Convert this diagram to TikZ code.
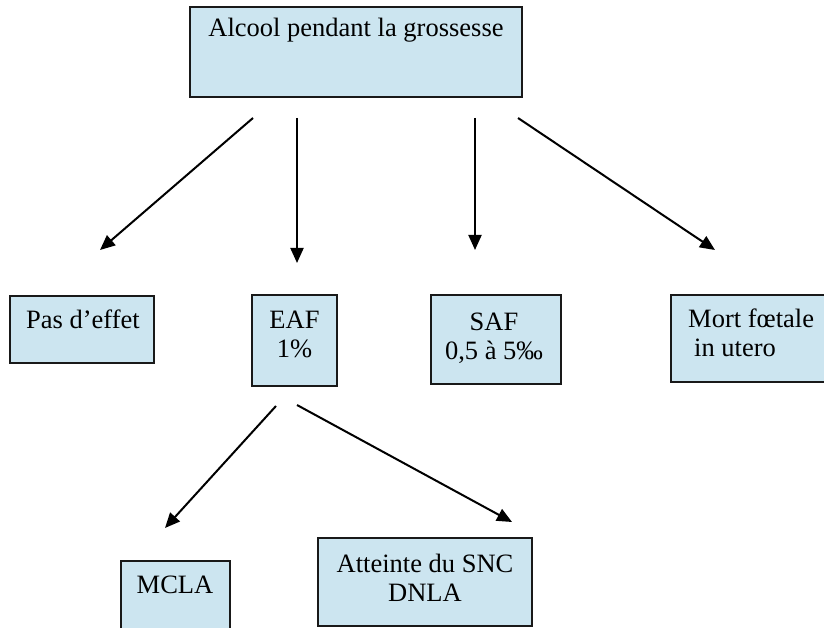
\documentclass[tikz,border=0pt]{standalone}
\usepackage{fontspec}
\setmainfont{Liberation Serif}
\usetikzlibrary{arrows.meta}
\definecolor{boxfill}{RGB}{204,229,240}
\begin{document}
\begin{tikzpicture}[x=1pt,y=-1pt,
  box/.style={draw=black!90, line width=2.2pt, fill=boxfill, inner sep=0pt},
  lbl/.style={font=\fontsize{26.5}{29}\selectfont, inner sep=0pt, anchor=base, align=center},
  arr/.style={line width=2pt, -{Triangle[length=15pt,width=13pt]}}]
\useasboundingbox (0,0) rectangle (824,628);
\clip (0,0) rectangle (824,628);
% boxes
\node[box, minimum width=332pt, minimum height=90pt] (b0) at (356,52) {};
\node[box, minimum width=144pt, minimum height=67pt] (b1) at (82,329.5) {};
\node[box, minimum width=85pt, minimum height=91pt] (b2) at (294.5,340.5) {};
\node[box, minimum width=130pt, minimum height=89pt] (b3) at (496,339.5) {};
\node[box, minimum width=170pt, minimum height=87pt] (b4) at (756,338.5) {};
\node[box, minimum width=109pt, minimum height=90pt] (b5) at (175.5,606) {};
\node[box, minimum width=214pt, minimum height=88pt] (b6) at (425,582) {};
% texts (multi-line nodes: base = baseline of the last line)
\node[lbl] (t0) at (356,37) {Alcool pendant la grossesse};
\node[lbl] (t1) at (83,328) {Pas d’effet};
\node[lbl] (t2) at (294.5,357) {EAF\\1\%};
\node[lbl] (t3) at (494,359) {SAF\\0,5 à 5‰};
\node[lbl, align=left, anchor=base west] (t4) at (688,356) {Mort fœtale\\\hspace*{6pt}in utero};
\node[lbl] (t5) at (175,593) {MCLA};
\node[lbl] (t6) at (425,601) {Atteinte du SNC\\DNLA};
% arrow end points
\coordinate (a1s) at (253,118); \coordinate (a1e) at (100,250);
\coordinate (a2s) at (297,118); \coordinate (a2e) at (297,263);
\coordinate (a3s) at (475,118); \coordinate (a3e) at (475,250);
\coordinate (a4s) at (518,118); \coordinate (a4e) at (715,250);
\coordinate (a5s) at (276,406); \coordinate (a5e) at (165,528);
\coordinate (a6s) at (297,405); \coordinate (a6e) at (512,522);
\draw[arr] (a1s) -- (a1e);
\draw[arr] (a2s) -- (a2e);
\draw[arr] (a3s) -- (a3e);
\draw[arr] (a4s) -- (a4e);
\draw[arr] (a5s) -- (a5e);
\draw[arr] (a6s) -- (a6e);
\end{tikzpicture}
\end{document}
